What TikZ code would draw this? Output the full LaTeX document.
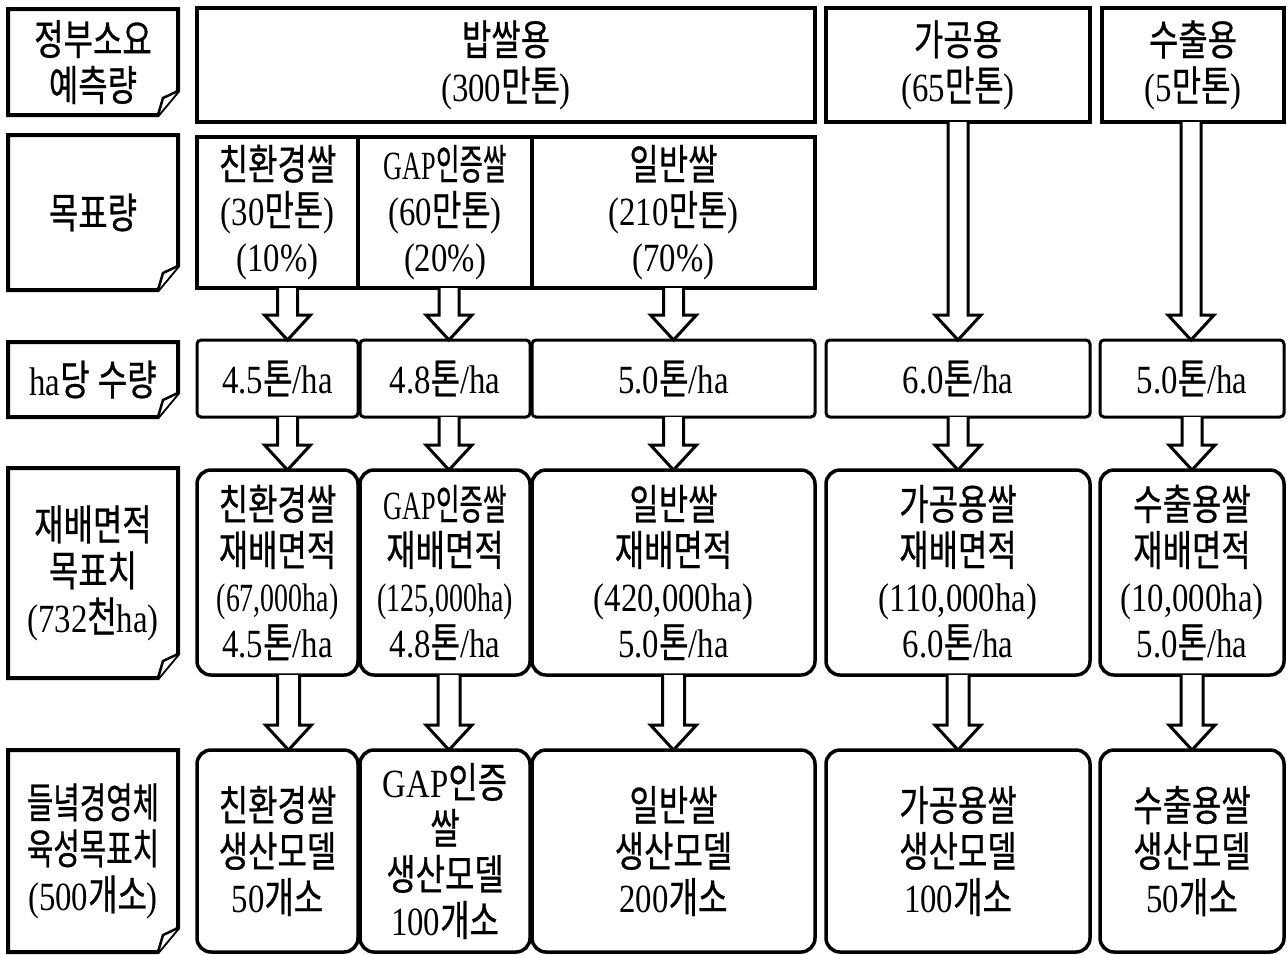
\documentclass[tikz,border=0pt]{standalone}
\usepackage{fontspec}
\usepackage{graphicx}
\setmainfont{Liberation Serif}[FakeStretch=0.82]
\newfontfamily\kr{Noto Sans CJK KR}[FakeStretch=0.76,Scale=1.05,FakeBold=0.6]
\newcommand{\K}[1]{{\kr #1}}
\newcommand{\sq}[2][0.8]{\scalebox{#1}[1]{#2}}
\usetikzlibrary{calc}
\tikzset{
  every node/.style={font=\fontsize{40}{46}\selectfont, align=center, inner sep=0pt, outer sep=0pt},
  box/.style={draw, line width=3.5pt},
  rbox/.style={box, rounded corners=14pt},
  sbox/.style={box, rounded corners=4pt, line width=3pt},
  labline/.style={line width=4pt, line join=miter},
  foldline/.style={line width=2.5pt, fill=white, line join=miter},
  arrowline/.style={line width=3pt, fill=white, line join=miter},
}
\newcommand{\labframe}[1]{%
  \draw[labline] (#1.north west) -- (#1.north east) -- ($(#1.south east)+(0,-24)$)
    -- ($(#1.south east)+(-20,0)$) -- (#1.south west) -- cycle;
  \draw[foldline] ($(#1.south east)+(0,-24)$) -- ($(#1.south east)+(-15,-17)$)
    -- ($(#1.south east)+(-20,0)$);}
\newcommand{\barrow}[4]{%
  \coordinate (S) at ($(#1.south)+(#3,0)$);
  \coordinate (E) at (S |- #2.north);
  \draw[arrowline] ($(S)+(-#4,0)$) -- ($(E)+(-#4,-25)$) -- ($(E)+(-23,-25)$) -- (E)
    -- ($(E)+(23,-25)$) -- ($(E)+(#4,-25)$) -- ($(S)+(#4,0)$);}
\begin{document}
\begin{tikzpicture}[x=1pt,y=-1pt]
\useasboundingbox (0,0) rectangle (1287,954);

% left labels
\node[minimum width=170, minimum height=106] (L1) at (93,62) {\K{정부소요}\\\K{예측량}};
\node[minimum width=170, minimum height=155] (L2) at (93,212.5) {\K{목표량}};
\node[minimum width=170, minimum height=75] (L3) at (93,379.5) {ha\K{당} \K{수량}};
\node[minimum width=170, minimum height=210] (L4) at (93,573) {\K{재배면적}\\\K{목표치}\\(732\K{천}ha)};
\node[minimum width=170, minimum height=202] (L5) at (93,851) {\sq[0.9]{\K{들녘경영체}}\\\sq[0.9]{\K{육성목표치}}\\(500\K{개소})};
\labframe{L1}\labframe{L2}\labframe{L3}\labframe{L4}\labframe{L5}

% row 1
\node[box, minimum width=618, minimum height=114] (bap) at (506,65) {\K{밥쌀용}\\(300\K{만톤})};
\node[box, minimum width=264, minimum height=114] (gg) at (958,65) {\K{가공용}\\(65\K{만톤})};
\node[box, minimum width=182, minimum height=114] (sc) at (1193,65) {\K{수출용}\\(5\K{만톤})};

% row 2
\node[box, minimum width=161, minimum height=151] (a2) at (277.5,212.5) {\K{친환경쌀}\\(30\K{만톤})\\(10\%)};
\node[box, minimum width=174, minimum height=151] (b2) at (445,212.5) {\sq{GAP\K{인증쌀}}\\(60\K{만톤})\\(20\%)};
\node[box, minimum width=283, minimum height=151] (c2) at (673.5,212.5) {\K{일반쌀}\\(210\K{만톤})\\(70\%)};

% row 3
\node[sbox, minimum width=161, minimum height=77] (a3) at (277.5,378.5) {4.5\K{톤}/ha};
\node[sbox, minimum width=170, minimum height=77] (b3) at (445,378.5) {4.8\K{톤}/ha};
\node[sbox, minimum width=283, minimum height=77] (c3) at (673.5,378.5) {5.0\K{톤}/ha};
\node[sbox, minimum width=264, minimum height=77] (d3) at (958,378.5) {6.0\K{톤}/ha};
\node[sbox, minimum width=184, minimum height=77] (e3) at (1192,378.5) {5.0\K{톤}/ha};

% row 4
\node[rbox, minimum width=161, minimum height=205] (a4) at (277.5,572.5) {\K{친환경쌀}\\\K{재배면적}\\\sq[0.85]{(67,000ha)}\\4.5\K{톤}/ha};
\node[rbox, minimum width=170, minimum height=205] (b4) at (445,572.5) {\sq{GAP\K{인증쌀}}\\\K{재배면적}\\\sq[0.85]{(125,000ha)}\\4.8\K{톤}/ha};
\node[rbox, minimum width=283, minimum height=205] (c4) at (673.5,572.5) {\K{일반쌀}\\\K{재배면적}\\(420,000ha)\\5.0\K{톤}/ha};
\node[rbox, minimum width=264, minimum height=205] (d4) at (958,572.5) {\K{가공용쌀}\\\K{재배면적}\\(110,000ha)\\6.0\K{톤}/ha};
\node[rbox, minimum width=184, minimum height=205] (e4) at (1192,572.5) {\K{수출용쌀}\\\K{재배면적}\\(10,000ha)\\5.0\K{톤}/ha};

% row 5
\node[rbox, minimum width=161, minimum height=202] (a5) at (277.5,851) {\K{친환경쌀}\\\K{생산모델}\\50\K{개소}};
\node[rbox, minimum width=170, minimum height=202] (b5) at (445,851) {GAP\K{인증}\\\K{쌀}\\\K{생산모델}\\100\K{개소}};
\node[rbox, minimum width=283, minimum height=202] (c5) at (673.5,851) {\K{일반쌀}\\\K{생산모델}\\200\K{개소}};
\node[rbox, minimum width=264, minimum height=202] (d5) at (958,851) {\K{가공용쌀}\\\K{생산모델}\\100\K{개소}};
\node[rbox, minimum width=184, minimum height=202] (e5) at (1192,851) {\K{수출용쌀}\\\K{생산모델}\\50\K{개소}};

% arrows
\barrow{a2}{a3}{10}{10}
\barrow{b2}{b3}{4}{10}
\barrow{c2}{c3}{0}{10}
\barrow{gg}{d3}{0}{10}
\barrow{sc}{e3}{-2}{10}
\barrow{a3}{a4}{10}{10}
\barrow{b3}{b4}{4}{10}
\barrow{c3}{c4}{0}{10}
\barrow{d3}{d4}{0}{10}
\barrow{e3}{e4}{0}{10}
\barrow{a4}{a5}{11}{11}
\barrow{b4}{b5}{4}{11}
\barrow{c4}{c5}{0}{11}
\barrow{d4}{d5}{0}{11}
\barrow{e4}{e5}{0}{11}
\end{tikzpicture}
\end{document}
